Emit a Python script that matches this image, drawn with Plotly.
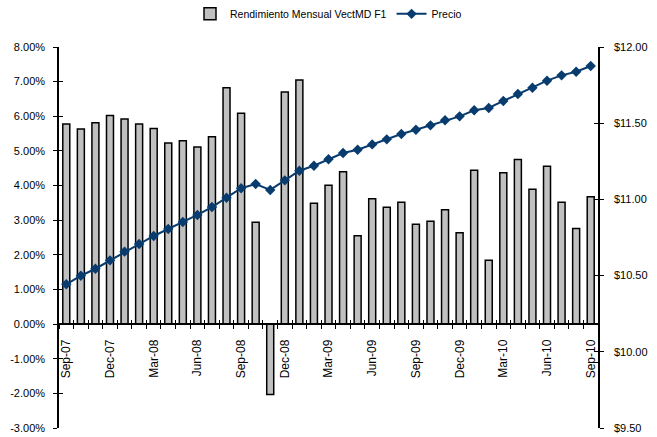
import plotly.graph_objects as go

months = ["Sep-07", "Oct-07", "Nov-07", "Dec-07", "Jan-08", "Feb-08", "Mar-08", "Apr-08",
          "May-08", "Jun-08", "Jul-08", "Aug-08", "Sep-08", "Oct-08", "Nov-08", "Dec-08",
          "Jan-09", "Feb-09", "Mar-09", "Apr-09", "May-09", "Jun-09", "Jul-09", "Aug-09",
          "Sep-09", "Oct-09", "Nov-09", "Dec-09", "Jan-10", "Feb-10", "Mar-10", "Apr-10",
          "May-10", "Jun-10", "Jul-10", "Aug-10", "Sep-10"]

rendimiento = [5.78, 5.63, 5.81, 6.02, 5.92, 5.78, 5.65, 5.23, 5.29, 5.11, 5.41, 6.82,
               6.09, 2.94, -2.03, 6.70, 7.05, 3.49, 4.01, 4.40, 2.55, 3.62, 3.37, 3.52,
               2.88, 2.97, 3.30, 2.64, 4.44, 1.84, 4.37, 4.75, 3.89, 4.56, 3.52, 2.76, 3.68]

precio = [10.443, 10.499, 10.545, 10.600, 10.657, 10.707, 10.760, 10.806, 10.852, 10.898,
          10.950, 11.011, 11.073, 11.101, 11.062, 11.125, 11.188, 11.221, 11.263, 11.304,
          11.326, 11.361, 11.394, 11.429, 11.457, 11.486, 11.519, 11.545, 11.585, 11.600,
          11.646, 11.692, 11.733, 11.779, 11.814, 11.838, 11.875]

x_labels = [m if i % 3 == 0 else "" for i, m in enumerate(months)]
left_ticks = [8, 7, 6, 5, 4, 3, 2, 1, 0, -1, -2, -3]
left_text = ["8.00%", "7.00%", "6.00%", "5.00%", "4.00%", "3.00%", "2.00%", "1.00%",
             "0.00%", "-1.00%", "-2.00%", "-3.00%"]

FONT = "Liberation Sans, Arial, sans-serif"
zero_pos = 3 / 11

fig = go.Figure()
fig.add_trace(go.Bar(
    x=months, y=rendimiento, name="Rendimiento Mensual VectMD F1",
    marker=dict(color="#C0C0C0", line=dict(color="black", width=1.5)),
    xaxis="x", yaxis="y",
))
fig.add_trace(go.Scatter(
    x=months, y=precio, name="Precio", mode="lines+markers",
    line=dict(color="#083B6E", width=2),
    marker=dict(symbol="diamond", size=8, color="#083B6E"),
    xaxis="x2", yaxis="y2",
))
fig.add_trace(go.Scatter(x=[], y=[], xaxis="x", yaxis="y3", showlegend=False))
fig.add_trace(go.Scatter(x=[], y=[], xaxis="x", yaxis="y4", showlegend=False))

common_x = dict(
    type="category", categoryorder="array", categoryarray=months,
    range=[-0.5, len(months) - 0.5], anchor="free", position=zero_pos,
    tickson="boundaries", ticklen=4, tickwidth=1.2, tickcolor="black",
    showgrid=False, zeroline=False,
)
fig.update_layout(
    width=657, height=437,
    margin=dict(l=59, r=59, t=47, b=9, autoexpand=False),
    paper_bgcolor="white", plot_bgcolor="white",
    font=dict(family=FONT, size=11, color="black"),
    bargap=0.52,
    showlegend=True,
    legend=dict(orientation="h", x=0.5, xanchor="center", y=1.087, yanchor="middle",
                font=dict(size=10.5), bgcolor="rgba(0,0,0,0)", itemwidth=30,
                traceorder="normal"),
    xaxis=dict(**common_x, ticks="outside", showline=True, linecolor="black", linewidth=1.5,
               tickmode="array", tickvals=months, ticktext=x_labels,
               tickangle=-90, tickfont=dict(size=12), ticklabelstandoff=10),
    xaxis2=dict(**common_x, ticks="inside", overlaying="x", showline=False,
                tickmode="array", tickvals=months, ticktext=["" for _ in months],
                showticklabels=False),
    yaxis=dict(range=[-3, 8], tickmode="array", tickvals=left_ticks, ticktext=left_text,
               ticks="outside", ticklen=4, tickwidth=1.2, tickcolor="black",
               showline=True, linecolor="black", linewidth=1.5, showgrid=False,
               zeroline=False, ticklabelstandoff=6, automargin=False),
    yaxis2=dict(range=[9.5, 12], dtick=0.5, tickformat=".2f", tickprefix="$",
                overlaying="y", side="right", anchor="x",
                ticks="outside", ticklen=4, tickwidth=1.2, tickcolor="black",
                showline=True, linecolor="black", linewidth=1.5, showgrid=False,
                zeroline=False, ticklabelstandoff=8, automargin=False),
    yaxis3=dict(range=[-3, 8], tickmode="array", tickvals=left_ticks, overlaying="y",
                side="left", anchor="x", ticks="inside", ticklen=4, tickwidth=1.2,
                tickcolor="black", showticklabels=False, showgrid=False, zeroline=False,
                showline=False),
    yaxis4=dict(range=[9.5, 12], dtick=0.5, overlaying="y", side="right", anchor="x",
                ticks="inside", ticklen=4, tickwidth=1.2, tickcolor="black",
                showticklabels=False, showgrid=False, zeroline=False, showline=False),
)

fig.write_html("out.html", config={"displayModeBar": False},
               post_script="document.body.style.margin='0';document.body.style.padding='0';")
